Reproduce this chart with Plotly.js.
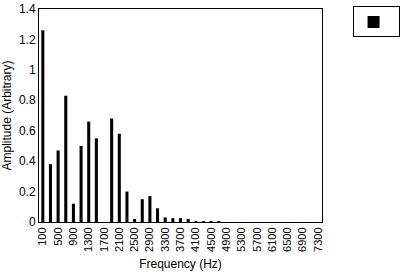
<!DOCTYPE html>
<html>
<head>
<meta charset="utf-8">
<script src="https://cdn.plot.ly/plotly-3.0.1.min.js"></script>
<style>html,body{margin:0;padding:0;background:#fff;}#chart{width:406px;height:274px;}</style>
</head>
<body>
<div id="chart"></div>
<script>
var frequencies = ["100","300","500","700","900","1100","1300","1500","1700","1900","2100","2300","2500","2700","2900","3100","3300","3500","3700","3900","4100","4300","4500","4700","4900","5100","5300","5500","5700","5900","6100","6300","6500","6700","6900","7100","7300"];
var amplitudes = [1.26,0.38,0.47,0.83,0.12,0.50,0.66,0.55,0,0.68,0.58,0.20,0.02,0.15,0.17,0.09,0.03,0.025,0.025,0.02,0.006,0.006,0.006,0.006,0,0,0,0,0,0,0,0,0,0,0,0,0];
var xTickLabels = ["100","500","900","1300","1700","2100","2500","2900","3300","3700","4100","4500","4900","5300","5700","6100","6500","6900","7300"];
var yTickValues = [0,0.2,0.4,0.6,0.8,1,1.2,1.4];
var yTickLabels = ["0","0.2","0.4","0.6","0.8","1","1.2","1.4"];

var font = {family: "'Liberation Sans', Arial, sans-serif", size: 12, color: "#000"};

var trace = {
  type: "bar",
  x: frequencies,
  y: amplitudes,
  name: "",
  showlegend: true,
  marker: {color: "#000", line: {width: 0}}
};

var layout = {
  width: 406, height: 274,
  margin: {l: 39, r: 79, t: 6, b: 52, pad: 0},
  paper_bgcolor: "#fff", plot_bgcolor: "#fff",
  font: font,
  bargap: 0.6,
  showlegend: true,
  legend: {
    x: 1.108, xanchor: "left", y: 1.012, yanchor: "top",
    bordercolor: "#000", borderwidth: 1, bgcolor: "#fff",
    font: {family: font.family, size: 2, color: "#000"},
    itemwidth: 30
  },
  xaxis: {
    type: "category",
    tickmode: "array", tickvals: xTickLabels, ticktext: xTickLabels,
    tickangle: -90, ticks: "", showgrid: false, zeroline: false,
    showline: true, mirror: true, linecolor: "#000", linewidth: 1,
    tickfont: {family: font.family, size: 11, color: "#000"},
    title: {text: "Frequency (Hz)", font: {family: font.family, size: 12, color: "#000"}},
    automargin: false
  },
  yaxis: {
    range: [0, 1.4], tickmode: "array", tickvals: yTickValues, ticktext: yTickLabels,
    ticklabeloverflow: "allow",
    ticks: "", showgrid: false, zeroline: false,
    showline: true, mirror: true, linecolor: "#000", linewidth: 1,
    tickfont: {family: font.family, size: 12, color: "#000"},
    title: {text: "Amplitude (Arbitrary)", font: {family: font.family, size: 12, color: "#000"}},
    automargin: false
  }
};

Plotly.newPlot("chart", [trace], layout, {staticPlot: true, displayModeBar: false});
</script>
</body>
</html>
